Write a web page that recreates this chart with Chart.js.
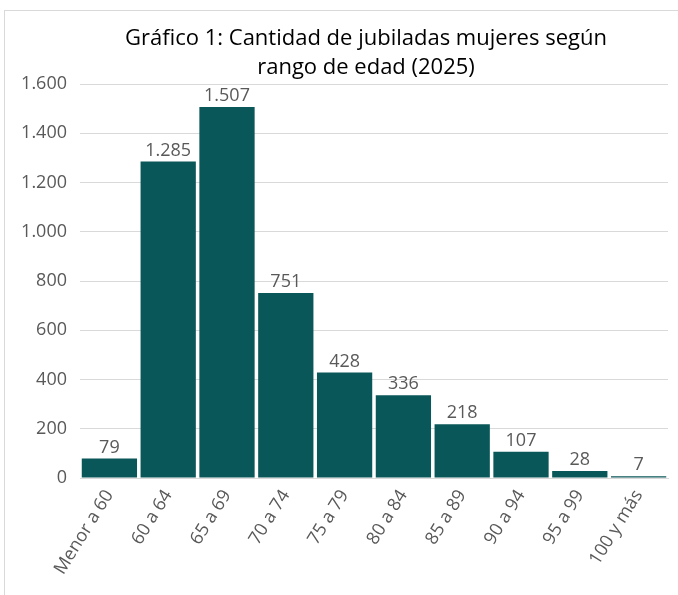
<!DOCTYPE html>
<html>
<head>
<meta charset="utf-8">
<script src="https://cdn.jsdelivr.net/npm/chart.js@4/dist/chart.umd.min.js"></script>
<style>
html,body{margin:0;padding:0;background:#fff;}
#wrap{width:678px;height:595px;position:relative;}
</style>
</head>
<body>
<div id="wrap"><canvas id="c" width="678" height="595"></canvas></div>
<script>
const categories = ["Menor a 60","60 a 64","65 a 69","70 a 74","75 a 79","80 a 84","85 a 89","90 a 94","95 a 99","100 y más"];
const values = [79,1285,1507,751,428,336,218,107,28,7];
const titleLines = ["Gráfico 1: Cantidad de jubiladas mujeres según","rango de edad (2025)"];

const FONT = "'Open Sans',sans-serif";
const fmt = v => v.toString().replace(/\B(?=(\d{3})+(?!\d))/g, ".");

const bgPlugin = {
  id:'bg',
  beforeDraw(chart){
    const ctx = chart.ctx;
    ctx.save();
    ctx.fillStyle='#fff';
    ctx.fillRect(0,0,chart.width,chart.height);
    ctx.strokeStyle='#d9d9d9';
    ctx.lineWidth=1;
    ctx.strokeRect(4.5,10.5,chart.width+10,chart.height+10);
    ctx.restore();
  },
  afterDraw(chart){
    const ctx = chart.ctx;
    ctx.save();
    ctx.font = "22px " + FONT;
    ctx.fillStyle = '#000';
    ctx.textAlign='center';
    ctx.textBaseline='middle';
    ctx.fillText(titleLines[0], 366, 39);
    ctx.fillText(titleLines[1], 366, 68);
    ctx.restore();
  }
};
const labelPlugin = {
  id:'vlabels',
  afterDatasetsDraw(chart){
    const ctx = chart.ctx;
    const meta = chart.getDatasetMeta(0);
    ctx.save();
    ctx.font = "18px " + FONT;
    ctx.fillStyle = '#595959';
    ctx.textAlign='center';
    ctx.textBaseline='bottom';
    meta.data.forEach((bar,i)=>{
      ctx.fillText(fmt(chart.data.datasets[0].data[i]), bar.x, bar.y-2);
    });
    ctx.restore();
  }
};

new Chart(document.getElementById('c'), {
  type:'bar',
  data:{labels:categories, datasets:[{data:values, backgroundColor:'#0a5759', barPercentage:0.94, categoryPercentage:1.0}]},
  options:{
    responsive:false,
    animation:false,
    layout:{padding:{left:4,right:10,top:84,bottom:2}},
    plugins:{
      legend:{display:false},
      tooltip:{enabled:false},
      title:{display:false}
    },
    scales:{
      x:{
        grid:{display:false,drawTicks:false},
        border:{color:'#d9d9d9',width:1},
        ticks:{color:'#595959',font:{family:FONT,size:18},minRotation:58,maxRotation:58,padding:8,autoSkip:false},
        afterFit(s){s.height=115;}
      },
      y:{
        min:0,max:1600,
        grid:{color:'#d9d9d9',drawTicks:false},
        border:{display:false},
        ticks:{stepSize:200,color:'#595959',font:{family:FONT,size:18},padding:13,callback:v=>fmt(v)},
        afterFit(s){s.width=76;}
      }
    }
  },
  plugins:[bgPlugin,labelPlugin]
});
</script>
</body>
</html>
